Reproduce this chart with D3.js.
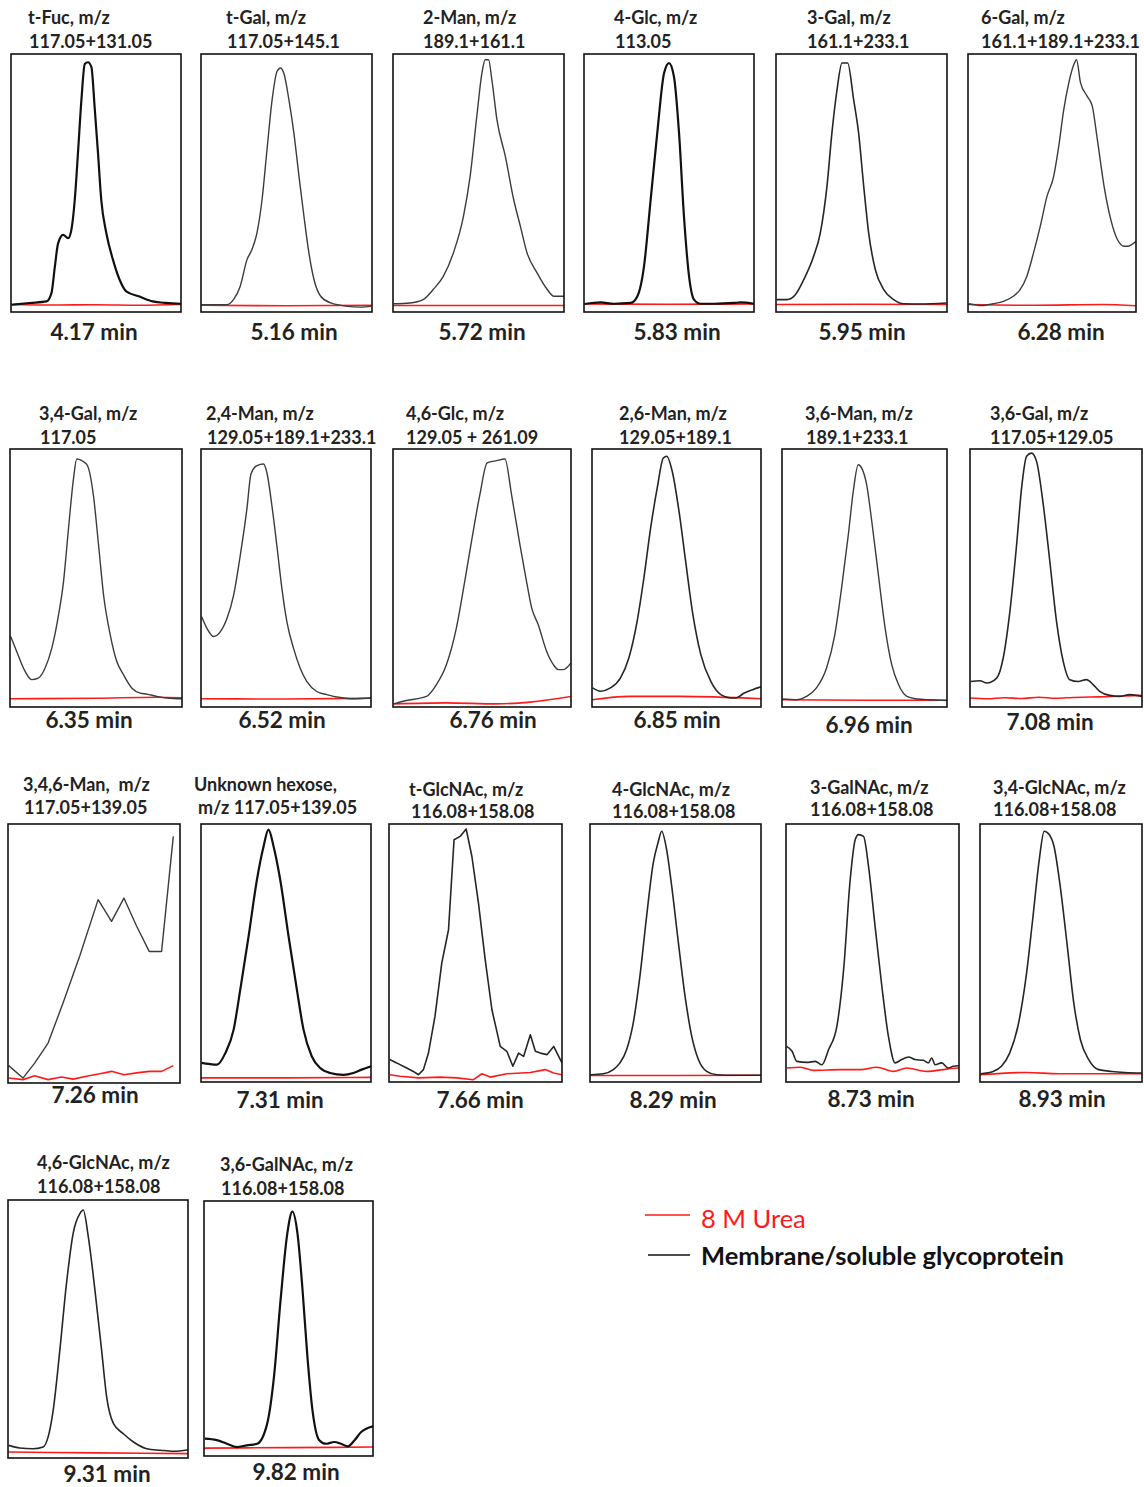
<!DOCTYPE html>
<html>
<head>
<meta charset="utf-8">
<script src="https://cdn.jsdelivr.net/npm/d3@7"></script>
<style>
  html, body { margin: 0; padding: 0; background: #fff; }
  svg { display: block; }
</style>
</head>
<body>
<svg id="chart" width="1144" height="1487"></svg>
<script>
// ---------------- data ----------------
// Panel headings: linkage residue and the monitored fragment ions
const titleLine1 = [
  "t-Fuc, m/z", "t-Gal, m/z", "2-Man, m/z", "4-Glc, m/z", "3-Gal, m/z", "6-Gal, m/z",
  "3,4-Gal, m/z", "2,4-Man, m/z", "4,6-Glc, m/z", "2,6-Man, m/z", "3,6-Man, m/z", "3,6-Gal, m/z",
  "3,4,6-Man,  m/z", "Unknown hexose,", "t-GlcNAc, m/z", "4-GlcNAc, m/z", "3-GalNAc, m/z", "3,4-GlcNAc, m/z",
  "4,6-GlcNAc, m/z", "3,6-GalNAc, m/z"
];
const titleLine2 = [
  "117.05+131.05", "117.05+145.1", "189.1+161.1", "113.05", "161.1+233.1", "161.1+189.1+233.1",
  "117.05", "129.05+189.1+233.1", "129.05 + 261.09", "129.05+189.1", "189.1+233.1", "117.05+129.05",
  "117.05+139.05", "m/z 117.05+139.05", "116.08+158.08", "116.08+158.08", "116.08+158.08", "116.08+158.08",
  "116.08+158.08", "116.08+158.08"
];
// Retention time (min) of each linkage peak
const retentionMin = [4.17, 5.16, 5.72, 5.83, 5.95, 6.28, 6.35, 6.52, 6.76, 6.85, 6.96, 7.08,
                      7.26, 7.31, 7.66, 8.29, 8.73, 8.93, 9.31, 9.82];

// Membrane/soluble glycoprotein extracted-ion traces: time (% of window) and relative signal (%)
const glycoTime = [
  [0.4, 11.1, 20.9, 23.8, 25.8, 27.7, 30.7, 33.6, 35.5, 37.5, 39.5, 41.4, 43.4, 45.3, 47.3, 49.2, 51.2, 53.1, 56.1, 60.0, 63.9, 67.8, 75.6, 83.4, 91.2, 100],
  [0.4, 15.1, 19.0, 22.9, 26.9, 29.8, 32.7, 35.7, 38.6, 41.6, 44.5, 46.5, 48.4, 51.4, 54.3, 57.3, 60.2, 63.1, 66.1, 70.0, 75.9, 85.7, 93.5, 99.4],
  [0.4, 9.8, 17.6, 23.5, 29.4, 35.3, 41.2, 45.1, 49.0, 52.0, 53.9, 55.9, 57.8, 60.8, 65.7, 70.6, 74.5, 78.4, 84.3, 90.2, 94.1, 100],
  [0.4, 9.8, 17.6, 27.5, 31.4, 35.3, 39.2, 43.1, 47.1, 50.0, 52.9, 55.9, 58.8, 61.8, 64.7, 68.6, 76.5, 88.2, 92.2, 100],
  [0.4, 6.4, 11.3, 16.2, 22.0, 25.9, 29.8, 32.7, 35.7, 38.6, 41.9, 45.4, 48.3, 51.3, 54.2, 58.1, 63.0, 68.8, 74.7, 84.4, 99.6],
  [0.4, 8.0, 15.0, 21.0, 27.0, 31.0, 35.0, 39.0, 43.0, 47.0, 51.0, 54.0, 57.0, 60.0, 63.0, 64.6, 67.0, 71.0, 74.0, 77.0, 81.0, 85.0, 89.0, 93.0, 95.0, 100],
  [0.4, 3.9, 7.8, 12.6, 16.5, 20.4, 24.3, 28.2, 31.1, 34.0, 36.9, 38.8, 41.7, 45.0, 48.5, 51.5, 54.4, 58.3, 62.1, 66.0, 70.9, 75.7, 79.6, 85.4, 91.3, 100],
  [0.4, 3.5, 7.4, 11.4, 15.3, 19.2, 23.1, 27.0, 29.4, 32.9, 36.8, 38.7, 41.7, 44.6, 47.6, 50.5, 54.4, 58.3, 62.2, 68.1, 74.0, 81.8, 89.6, 100],
  [0.4, 7.5, 18.8, 24.4, 30.0, 35.6, 40.3, 44.1, 48.8, 52.9, 58.2, 62.9, 66.6, 71.3, 75.0, 77.9, 81.6, 86.3, 90.1, 92.9, 95.7, 100],
  [0.4, 5.0, 10.9, 16.8, 21.8, 26.7, 30.7, 34.7, 38.6, 42.2, 44.2, 47.5, 51.5, 55.4, 59.4, 64.4, 70.3, 76.2, 82.2, 85.1, 90.1, 95.0, 100],
  [0.4, 8.7, 14.8, 20.9, 27.0, 32.0, 36.1, 40.2, 43.2, 46.2, 48.3, 51.3, 54.4, 58.4, 62.5, 66.5, 70.6, 75.7, 81.7, 89.9, 100],
  [0.4, 5.8, 9.7, 15.5, 19.3, 23.2, 27.1, 30.0, 32.9, 35.8, 38.7, 42.6, 46.4, 50.3, 54.2, 58.0, 62.9, 67.7, 71.6, 75.4, 81.2, 87.0, 92.8, 100],
  [0.4, 8.7, 15.5, 23.3, 32.0, 41.7, 52.4, 60.2, 67.4, 74.8, 82.1, 89.3, 96.1],
  [0.4, 4.5, 9.4, 14.3, 19.2, 23.1, 28.0, 32.9, 36.8, 39.7, 42.7, 46.6, 51.5, 56.4, 60.3, 65.2, 70.1, 75.9, 83.8, 89.6, 94.5, 100],
  [0.4, 4.4, 10.2, 14.1, 17.0, 19.9, 22.8, 26.6, 30.5, 34.4, 37.6, 41.1, 44.6, 47.9, 51.7, 55.6, 59.5, 64.3, 68.1, 71.6, 74.9, 77.8, 81.7, 84.6, 87.5, 91.3, 95.2, 98.1, 100],
  [0.4, 7.8, 13.6, 17.5, 21.4, 25.3, 29.2, 33.1, 37.0, 40.0, 41.9, 44.8, 47.8, 51.7, 55.6, 59.5, 63.4, 68.2, 74.1, 83.8, 100],
  [0.4, 3.5, 6.3, 12.1, 16.9, 20.8, 24.6, 29.4, 33.3, 37.1, 40.0, 41.9, 44.8, 47.7, 51.5, 55.4, 59.2, 63.1, 66.9, 70.8, 74.6, 79.4, 82.3, 84.2, 86.2, 90.0, 93.8, 96.7, 100],
  [0.4, 8.1, 13.2, 18.3, 23.4, 28.5, 32.5, 36.6, 39.6, 42.7, 45.7, 49.8, 53.9, 57.9, 62.0, 67.1, 73.2, 81.3, 89.4, 100],
  [0.4, 6.5, 13.9, 19.5, 22.3, 25.1, 28.8, 32.5, 36.2, 40.0, 41.8, 44.6, 48.3, 52.0, 54.8, 58.6, 64.1, 69.7, 77.1, 84.6, 92.0, 100],
  [0.4, 7.6, 13.5, 19.5, 25.4, 31.4, 37.4, 41.4, 45.3, 49.3, 52.3, 55.3, 58.3, 61.2, 64.2, 68.2, 72.2, 77.1, 81.1, 85.1, 89.1, 93.0, 96.0, 100]
];
const glycoSignal = [
  [2.8, 3.5, 4.1, 7.3, 17.6, 26.6, 29.9, 28.6, 31.8, 43.4, 62.7, 82.0, 96.1, 96.8, 94.9, 79.4, 61.4, 43.4, 30.5, 20.2, 12.5, 8.0, 6.0, 4.1, 3.5, 3.2],
  [2.8, 2.8, 4.8, 9.9, 20.3, 24.2, 30.6, 43.5, 62.9, 82.3, 93.3, 94.6, 92.6, 82.3, 69.4, 52.6, 37.1, 22.9, 12.5, 6.1, 3.5, 2.2, 1.9, 2.2],
  [3.2, 3.5, 4.8, 8.7, 13.8, 22.9, 37.1, 52.6, 75.8, 92.6, 97.8, 97.8, 90.1, 74.5, 60.3, 43.5, 33.2, 22.9, 15.1, 8.7, 6.1, 6.1],
  [3.1, 3.7, 3.2, 3.5, 6.1, 17.7, 43.5, 69.4, 92.6, 96.5, 91.3, 69.4, 37.1, 13.8, 4.8, 3.2, 3.2, 3.5, 3.7, 3.2],
  [4.8, 4.8, 6.7, 12.5, 21.6, 30.6, 48.7, 69.4, 86.2, 96.5, 96.5, 82.3, 69.4, 48.7, 30.6, 16.4, 8.7, 4.8, 3.2, 3.1, 3.5],
  [3.2, 2.5, 3.2, 4.1, 6.1, 8.7, 13.8, 22.9, 33.2, 44.8, 52.6, 64.2, 78.4, 88.8, 95.9, 97.8, 88.8, 83.6, 79.7, 66.8, 48.7, 35.8, 28.0, 25.5, 25.5, 27.4],
  [27.3, 21.5, 15.1, 10.6, 11.2, 15.1, 22.8, 35.6, 48.5, 69.1, 88.4, 96.1, 95.5, 93.6, 82.0, 62.7, 43.4, 27.9, 17.6, 12.5, 7.3, 5.4, 5.0, 4.1, 3.5, 3.2],
  [35.0, 30.5, 27.3, 29.2, 34.4, 43.4, 58.8, 76.8, 90.3, 93.6, 94.2, 91.0, 78.1, 62.7, 45.9, 33.1, 22.8, 15.1, 9.9, 6.0, 4.8, 3.7, 3.2, 3.5],
  [1.2, 2.5, 4.1, 8.7, 16.4, 30.6, 48.7, 64.2, 82.3, 94.6, 95.5, 96.1, 82.3, 62.9, 48.7, 38.4, 31.9, 21.6, 16.4, 14.5, 14.5, 17.1],
  [7.4, 6.1, 7.4, 11.2, 19.0, 33.2, 50.0, 69.4, 84.9, 96.5, 97.2, 91.3, 75.8, 56.5, 37.1, 20.3, 9.9, 4.8, 3.5, 3.5, 5.4, 6.7, 7.8],
  [3.1, 2.8, 4.1, 7.4, 15.1, 28.0, 46.1, 66.8, 83.6, 93.9, 92.6, 86.2, 72.0, 51.3, 30.6, 16.4, 8.7, 4.1, 3.1, 2.8, 2.5],
  [9.9, 10.2, 9.3, 11.2, 19.0, 37.1, 62.9, 84.9, 97.2, 98.4, 95.2, 78.4, 56.5, 33.2, 17.7, 10.6, 9.9, 10.6, 8.7, 6.1, 4.5, 4.1, 4.8, 4.1],
  [6.7, 1.9, 7.7, 15.4, 30.9, 49.0, 70.8, 62.4, 71.4, 60.5, 50.8, 50.8, 95.2],
  [7.4, 7.0, 6.7, 11.2, 20.3, 35.8, 56.5, 78.4, 91.3, 97.8, 91.3, 78.4, 56.5, 35.8, 20.3, 9.9, 5.4, 3.5, 2.8, 3.5, 4.8, 6.1],
  [8.7, 7.4, 5.4, 4.1, 2.8, 4.8, 11.2, 25.5, 46.1, 59.0, 93.9, 95.2, 98.1, 87.5, 69.4, 47.4, 28.0, 13.8, 11.9, 6.1, 11.2, 9.9, 18.3, 11.9, 11.2, 10.6, 13.8, 9.9, 7.4],
  [2.8, 3.2, 4.8, 7.4, 12.5, 22.9, 41.0, 64.2, 84.9, 93.3, 97.2, 90.1, 75.8, 53.9, 33.2, 17.7, 8.7, 4.1, 2.8, 2.6, 2.6],
  [13.8, 11.9, 8.0, 7.6, 8.0, 6.7, 12.5, 21.6, 43.5, 78.4, 93.9, 95.9, 95.2, 83.6, 60.3, 37.1, 17.7, 7.4, 8.7, 9.7, 8.7, 8.4, 7.4, 9.3, 6.7, 7.4, 5.4, 6.1, 6.3],
  [3.2, 4.1, 6.1, 11.2, 21.6, 41.0, 62.9, 86.2, 97.2, 95.9, 91.3, 74.5, 52.6, 30.6, 16.4, 8.7, 4.8, 4.1, 3.7, 3.5],
  [4.9, 3.9, 3.6, 4.3, 8.2, 18.5, 41.8, 67.7, 87.1, 94.8, 96.1, 85.8, 65.1, 41.8, 23.7, 13.3, 9.4, 6.2, 3.6, 3.0, 2.6, 3.2],
  [6.8, 6.2, 4.8, 3.5, 4.2, 4.8, 12.7, 31.0, 61.1, 87.3, 95.8, 87.3, 65.2, 38.9, 17.9, 6.2, 4.8, 5.5, 4.8, 3.8, 6.2, 9.4, 10.7, 11.6]
];

// 8 M urea blank traces on the same scales
const ureaTime = [
  [0, 25, 50, 75, 100], [0, 50, 100], [0, 50, 100], [0, 50, 100], [0, 50, 100], [0, 40, 80, 100],
  [0, 50, 85, 100], [0, 50, 100], [0.4, 29.6, 58.2, 77.0, 100], [0, 22, 52, 100], [0, 50, 100],
  [0, 10, 20, 30, 40, 50, 60, 70, 80, 90, 100],
  [0.4, 8.7, 15.5, 23.3, 31.1, 37.9, 45.6, 53.4, 60.2, 67.4, 74.8, 82.1, 89.3, 96.1],
  [0, 50, 100],
  [0.4, 6.4, 17.0, 29.5, 39.2, 48.8, 53.7, 58.5, 68.1, 81.7, 90.3, 95.2, 100],
  [0, 50, 100],
  [0.4, 8.3, 16.0, 31.3, 42.9, 52.5, 62.1, 69.8, 81.3, 92.9, 100],
  [0, 28.5, 48.8, 100], [0, 50, 100], [0, 50, 100]
];
const ureaSignal = [
  [2.9, 2.7, 2.8, 2.6, 2.9], [2.6, 2.4, 2.6], [2.5, 2.5, 2.5], [3.1, 3.0, 3.1], [2.9, 3.0, 2.9], [2.9, 2.6, 2.9, 2.4],
  [3.2, 3.4, 3.8, 3.6], [3.2, 3.1, 3.4], [1.2, 1.6, 1.2, 1.9, 4.1], [2.8, 4.1, 4.1, 3.2], [2.8, 2.6, 2.6],
  [3.5, 3.2, 3.6, 3.3, 3.8, 3.4, 3.7, 3.9, 4.0, 4.3, 4.5],
  [1.9, 1.3, 2.8, 1.3, 2.3, 1.5, 2.6, 3.6, 4.5, 3.2, 3.9, 4.5, 4.5, 6.7],
  [1.6, 1.6, 1.8],
  [2.8, 2.2, 1.6, 1.9, 1.6, 0.9, 3.2, 1.9, 3.2, 3.7, 4.8, 3.5, 2.8],
  [2.5, 2.5, 2.6],
  [5.4, 5.7, 4.5, 4.8, 4.8, 5.7, 4.1, 5.4, 4.1, 5.0, 5.4],
  [2.8, 3.7, 3.2, 3.2], [2.3, 2.0, 1.7], [3.1, 3.3, 3.5]
];
const legendLabels = ["8 M Urea", "Membrane/soluble glycoprotein"];

// ---------------- layout ----------------
// Panel frames [x0, y0, x1, y1]
const frames = [
  [11, 54, 181, 312], [201, 54, 372, 312], [393, 54, 564, 312], [584, 54, 754, 312], [776, 54, 947, 312], [968, 54, 1136, 312],
  [10, 449, 182, 707], [201, 449, 371, 707], [393, 449, 571, 707], [592, 449, 761, 707], [782, 449, 947, 707], [970, 449, 1142, 707],
  [8, 824, 180, 1083], [201, 824, 371, 1082], [389, 824, 562, 1082], [590, 824, 761, 1082], [786, 824, 959, 1082], [980, 824, 1142, 1082],
  [8, 1200, 188, 1458], [204, 1201, 373, 1456]
];
// Heading anchors [x1, baseline1, x2, baseline2]
const headingAnchors = [
  [28, 24, 29, 48], [226, 24, 227, 48], [423, 24, 423, 48], [614, 24, 615, 48], [807, 24, 807, 48], [981, 24, 981, 48],
  [39, 420, 40, 444], [206, 420, 207, 444], [406, 420, 406, 444], [619, 420, 619, 444], [805, 420, 806, 444], [990, 420, 990, 444],
  [23, 791, 24, 814], [194, 791, 198, 814], [409, 796, 411, 818], [612, 796, 612, 818], [810, 794, 810, 816], [993, 794, 993, 816],
  [37, 1169, 37, 1193], [220, 1171, 221, 1195]
];
// Retention-time caption anchors [centre x, baseline]
const captionAnchors = [
  [94, 340], [294, 340], [482, 340], [677, 340], [862, 340], [1061, 340],
  [89, 728], [282, 728], [493, 728], [677, 728], [869, 733], [1050, 730],
  [95, 1103], [280, 1108], [480, 1108], [673, 1108], [871, 1107], [1062, 1107],
  [107, 1482], [296, 1480]
];
// Trace weight per panel: 0 light, 1 medium, 2 heavy
const traceWeight = [2, 0, 0, 2, 1, 0, 0, 0, 0, 1, 0, 1, 0, 2, 1, 1, 1, 1, 1, 2];
const weightStyle = [
  { stroke: "#3c3c3c", width: 1.4 },
  { stroke: "#262626", width: 1.6 },
  { stroke: "#111111", width: 2.2 }
];
// Panels with straight segments between readings
const straightPanels = new Set([12, 14]);

const FONT = "Lato, 'Open Sans', sans-serif";

// ---------------- drawing ----------------
const svg = d3.select("#chart");
const defs = svg.append("defs");

frames.forEach((f, i) => {
  const [x0, y0, x1, y1] = f;
  const x = d3.scaleLinear().domain([0, 100]).range([x0, x1]);
  const y = d3.scaleLinear().domain([0, 100]).range([y1, y0]);

  const clipId = "frame-clip-" + i;
  defs.append("clipPath").attr("id", clipId)
    .append("rect").attr("x", x0).attr("y", y0).attr("width", x1 - x0).attr("height", y1 - y0);

  const line = d3.line()
    .x(d => x(d[0]))
    .y(d => y(d[1]))
    .curve(straightPanels.has(i) ? d3.curveLinear : d3.curveMonotoneX);

  const g = svg.append("g").attr("class", "panel");
  const plot = g.append("g").attr("clip-path", `url(#${clipId})`);

  plot.append("path")
    .datum(d3.zip(ureaTime[i], ureaSignal[i]))
    .attr("d", line)
    .attr("fill", "none")
    .attr("stroke", "#ff1a1a")
    .attr("stroke-width", 1.6)
    .attr("stroke-linejoin", "round");

  const w = weightStyle[traceWeight[i]];
  plot.append("path")
    .datum(d3.zip(glycoTime[i], glycoSignal[i]))
    .attr("d", line)
    .attr("fill", "none")
    .attr("stroke", w.stroke)
    .attr("stroke-width", w.width)
    .attr("stroke-linejoin", "round");

  g.append("rect")
    .attr("x", x0).attr("y", y0)
    .attr("width", x1 - x0).attr("height", y1 - y0)
    .attr("fill", "none")
    .attr("stroke", "#111")
    .attr("stroke-width", 1.6);

  const [hx1, hb1, hx2, hb2] = headingAnchors[i];
  g.append("text")
    .attr("x", hx1).attr("y", hb1)
    .attr("font-family", FONT).attr("font-weight", 700).attr("font-size", 18)
    .attr("fill", "#222")
    .style("white-space", "pre")
    .text(titleLine1[i]);
  g.append("text")
    .attr("x", hx2).attr("y", hb2)
    .attr("font-family", FONT).attr("font-weight", 700).attr("font-size", 18)
    .attr("fill", "#222")
    .text(titleLine2[i]);

  const [cx, cb] = captionAnchors[i];
  g.append("text")
    .attr("x", cx).attr("y", cb)
    .attr("text-anchor", "middle")
    .attr("font-family", FONT).attr("font-weight", 700).attr("font-size", 22.5)
    .attr("fill", "#222")
    .text(retentionMin[i].toFixed(2) + " min");
});

// legend
const legend = svg.append("g").attr("class", "legend");
const legendRows = [
  { y: 1215, ty: 1228, x0: 645, color: "#ff1a1a", weight: 400, textColor: "#ff1a1a" },
  { y: 1255, ty: 1265, x0: 648, color: "#111", weight: 700, textColor: "#111" }
];
legendRows.forEach((r, k) => {
  legend.append("line")
    .attr("x1", r.x0).attr("x2", 690)
    .attr("y1", r.y).attr("y2", r.y)
    .attr("stroke", r.color).attr("stroke-width", 1.6);
  legend.append("text")
    .attr("x", 701).attr("y", r.ty)
    .attr("font-family", FONT).attr("font-weight", r.weight).attr("font-size", 25.5)
    .attr("fill", r.textColor)
    .text(legendLabels[k]);
});
</script>
</body>
</html>
